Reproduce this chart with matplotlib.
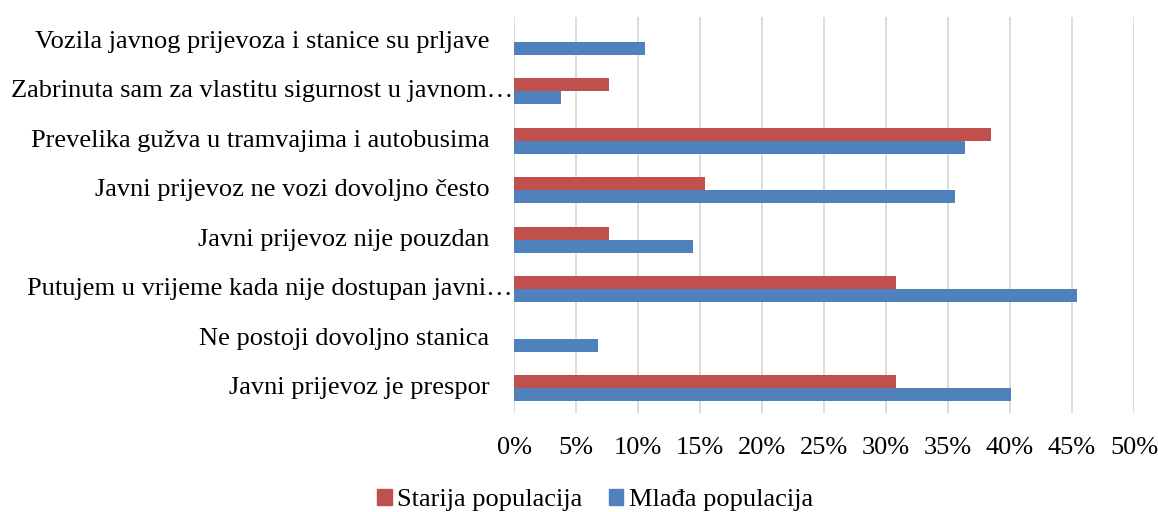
import numpy as np
import matplotlib.pyplot as plt
from matplotlib.patches import Patch

plt.rcParams['font.family'] = ['Liberation Serif', 'DejaVu Serif']

# kategorije odozgo prema dolje
categories = [
    "Vozila javnog prijevoza i stanice su prljave",
    "Zabrinuta sam za vlastitu sigurnost u javnom…",
    "Prevelika gužva u tramvajima i autobusima",
    "Javni prijevoz ne vozi dovoljno često",
    "Javni prijevoz nije pouzdan",
    "Putujem u vrijeme kada nije dostupan javni…",
    "Ne postoji dovoljno stanica",
    "Javni prijevoz je prespor",
]
truncated = [False, True, False, False, False, True, False, False]

starija = [0.0, 7.7, 38.5, 15.4, 7.7, 30.8, 0.0, 30.8]
mlada = [10.6, 3.8, 36.4, 35.6, 14.4, 45.4, 6.8, 40.1]

xticks = [0, 5, 10, 15, 20, 25, 30, 35, 40, 45, 50]

red = "#C0504D"
blue = "#4F81BD"
fs = 19

fig = plt.figure(figsize=(11.58, 5.12), dpi=100)
ax = fig.add_axes([514 / 1158, 1 - 413 / 512, 620 / 1158, 396 / 512])

n = len(categories)
y = np.arange(n)[::-1]
h = 0.26
ax.barh(y + h / 2, starija, height=h, color=red, zorder=3)
ax.barh(y - h / 2, mlada, height=h, color=blue, zorder=3)

ax.set_xlim(0, 50)
ax.set_ylim(-0.5, n - 0.5)
ax.set_xticks(xticks)
ax.set_xticklabels([f"{v}%" for v in xticks], fontsize=fs)
ax.tick_params(axis="x", length=0, pad=17)
ax.set_yticks([])
ax.grid(axis="x", color="#d9d9d9", linewidth=1.3, zorder=0)
for s in ax.spines.values():
    s.set_visible(False)

# oznake kategorija (skraćene sežu do osi)
for yi, lab, tr in zip(y, categories, truncated):
    xpos = -0.002 if tr else -0.04
    ax.text(xpos, yi, lab, transform=ax.get_yaxis_transform(),
            ha="right", va="center", fontsize=fs)

handles = [Patch(color=red, label="Starija populacija"),
           Patch(color=blue, label="Mlađa populacija")]
fig.legend(handles=handles, loc="center", bbox_to_anchor=(595 / 1158, 1 - 500 / 512),
           ncol=2, frameon=False, fontsize=fs, handlelength=0.55, handleheight=0.55,
           handletextpad=0.2, columnspacing=1.0, borderpad=0)

fig.savefig("out.png", dpi=100)
